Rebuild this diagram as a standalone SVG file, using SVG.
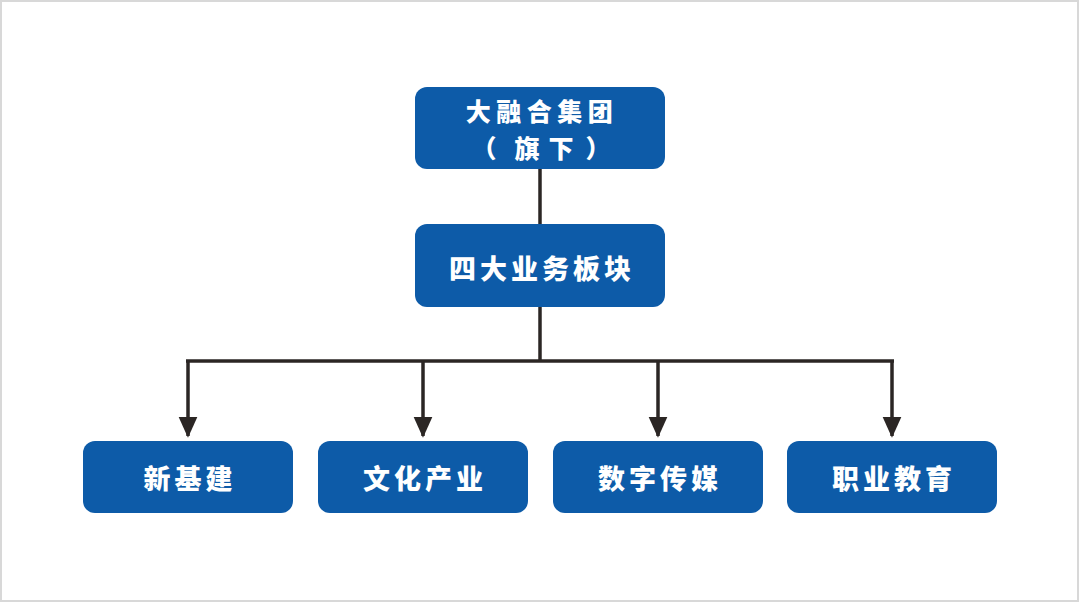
<svg xmlns="http://www.w3.org/2000/svg" width="1080" height="603" viewBox="0 0 1080 603">
  <style>
    .box { fill: #0d5ba8; }
    .lbl { fill: #ffffff; font-family: "Noto Sans CJK SC", "Noto Sans", sans-serif; font-weight: 900; font-size: 27px; letter-spacing: 4px; text-anchor: middle; dominant-baseline: central; }
    .wire { stroke: #2b2624; stroke-width: 3.5; fill: none; }
  </style>
  <defs>
    <marker id="arrow" markerWidth="6" markerHeight="6" refX="5.5" refY="3" orient="auto" markerUnits="strokeWidth">
      <path d="M0,0.3 L6,3 L0,5.7 Z" fill="#2b2624"/>
    </marker>
  </defs>
  <rect x="0" y="0" width="1080" height="603" fill="#ffffff"/>
  <rect x="1" y="1" width="1077" height="600" fill="none" stroke="#d8d8d8" stroke-width="2"/>

  <g id="connectors">
    <line class="wire" x1="540" y1="169" x2="540" y2="224"/>
    <line class="wire" x1="540" y1="307" x2="540" y2="361"/>
    <line class="wire" x1="186" y1="361" x2="894" y2="361"/>
    <line class="wire" x1="188" y1="361" x2="188" y2="436" marker-end="url(#arrow)"/>
    <line class="wire" x1="423" y1="361" x2="423" y2="436" marker-end="url(#arrow)"/>
    <line class="wire" x1="658" y1="361" x2="658" y2="436" marker-end="url(#arrow)"/>
    <line class="wire" x1="892" y1="361" x2="892" y2="436" marker-end="url(#arrow)"/>
  </g>

  <g id="group">
    <rect class="box" x="415" y="87" width="250" height="82" rx="12"/>
    <text class="lbl" x="542" y="110" style="font-size:25px;letter-spacing:5.5px">大融合集团</text>
    <text class="lbl" x="484 527 561 598" y="147" style="font-size:25px;letter-spacing:0">（旗下）</text>
  </g>
  <g id="segments">
    <rect class="box" x="415" y="224" width="250" height="83" rx="12"/>
    <text class="lbl" x="542" y="267">四大业务板块</text>
  </g>
  <g id="infra">
    <rect class="box" x="83" y="441" width="210" height="72" rx="12"/>
    <text class="lbl" x="190" y="477">新基建</text>
  </g>
  <g id="culture">
    <rect class="box" x="318" y="441" width="210" height="72" rx="12"/>
    <text class="lbl" x="425" y="477">文化产业</text>
  </g>
  <g id="media">
    <rect class="box" x="553" y="441" width="210" height="72" rx="12"/>
    <text class="lbl" x="660" y="477">数字传媒</text>
  </g>
  <g id="education">
    <rect class="box" x="787" y="441" width="210" height="72" rx="12"/>
    <text class="lbl" x="894" y="477">职业教育</text>
  </g>
</svg>
